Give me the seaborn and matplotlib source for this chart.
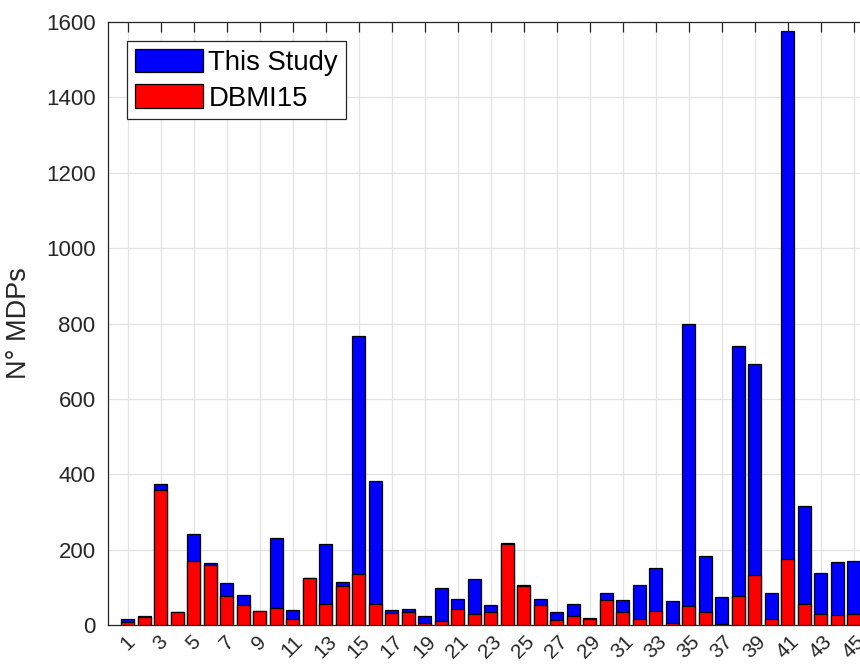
import matplotlib
matplotlib.use("Agg")
import matplotlib.pyplot as plt
from matplotlib.patches import Patch
import seaborn as sns
import pandas as pd
import numpy as np

sites = list(range(1, 46))
this_study = [16, 24, 374, 35, 241, 165, 111, 80, 37, 230, 40, 124, 216, 114, 768,
              381, 40, 42, 23, 97, 69, 122, 52, 217, 105, 69, 34, 56, 19, 86,
              67, 105, 150, 65, 799, 184, 73, 741, 692, 84, 1575, 316, 139, 167, 170]
dbmi15 = [7, 21, 358, 35, 170, 159, 76, 54, 37, 46, 17, 124, 55, 104, 134,
          56, 32, 34, 5, 11, 42, 30, 34, 214, 103, 54, 12, 24, 15, 66,
          34, 17, 37, 5, 50, 34, 2, 77, 133, 17, 175, 57, 30, 26, 28]
tick_vals = list(range(1, 46, 2))
tick_labels = [str(v) for v in tick_vals]
y_ticks = list(range(0, 1601, 200))

df = pd.DataFrame({"site": sites, "This Study": this_study, "DBMI15": dbmi15})

sns.set_style("white")
plt.rcParams['font.family'] = ['Liberation Sans', 'DejaVu Sans']

W, H = 860, 665
fig = plt.figure(figsize=(W / 100, H / 100), dpi=100)
left_px, top_px, bottom_px = 108, 22, 625
unit_px = 16.5
xmin, xmax = -0.19, 47.0
ax_w_px = (xmax - xmin) * unit_px
ax = fig.add_axes([left_px / W, 1 - bottom_px / H, ax_w_px / W, (bottom_px - top_px) / H])

sns.barplot(data=df, x="site", y="This Study", native_scale=True, color=(0, 0, 1),
            saturation=1, width=0.8, edgecolor="black", linewidth=0.9,
            errorbar=None, ax=ax, zorder=2)
sns.barplot(data=df, x="site", y="DBMI15", native_scale=True, color=(1, 0, 0),
            saturation=1, width=0.8, edgecolor="black", linewidth=0.9,
            errorbar=None, ax=ax, zorder=3)

ax.set_xlim(xmin, xmax)
ax.set_ylim(0, 1600)
ax.set_xticks(tick_vals)
ax.set_xticklabels(tick_labels, rotation=45, ha="center", va="top", fontsize=15)
ax.set_yticks(y_ticks)
ax.set_yticklabels([str(v) for v in y_ticks], fontsize=16)
ax.set_xlabel("")
ax.set_ylabel("N° MDPs", fontsize=19.5, labelpad=10)

ax.grid(True, color="#e3e3e3", linewidth=0.9, zorder=0)
ax.set_axisbelow(True)
ax.tick_params(axis="both", direction="in", length=7, width=0.9, color="#262626",
               top=True, right=True, labelcolor="#262626")
ax.tick_params(axis="x", pad=5)
ax.tick_params(axis="y", pad=9)
for s in ax.spines.values():
    s.set_visible(True)
    s.set_color("#262626")
    s.set_linewidth(0.9)

handles = [Patch(facecolor=(0, 0, 1), edgecolor="black", linewidth=0.9, label="This Study"),
           Patch(facecolor=(1, 0, 0), edgecolor="black", linewidth=0.9, label="DBMI15")]
leg = ax.legend(handles=handles, loc="upper left",
                bbox_to_anchor=(127 / W, 1 - 41 / H), bbox_transform=fig.transFigure,
                borderaxespad=0, fontsize=19.8, frameon=True, fancybox=False,
                handlelength=2.5, handleheight=0.95, handletextpad=0.18,
                labelspacing=0.3, borderpad=0.28)
leg.get_frame().set_edgecolor("#262626")
leg.get_frame().set_linewidth(0.9)
leg.get_frame().set_alpha(1)
for t in leg.get_texts():
    t.set_color("black")

fig.savefig("out.png", dpi=100)
